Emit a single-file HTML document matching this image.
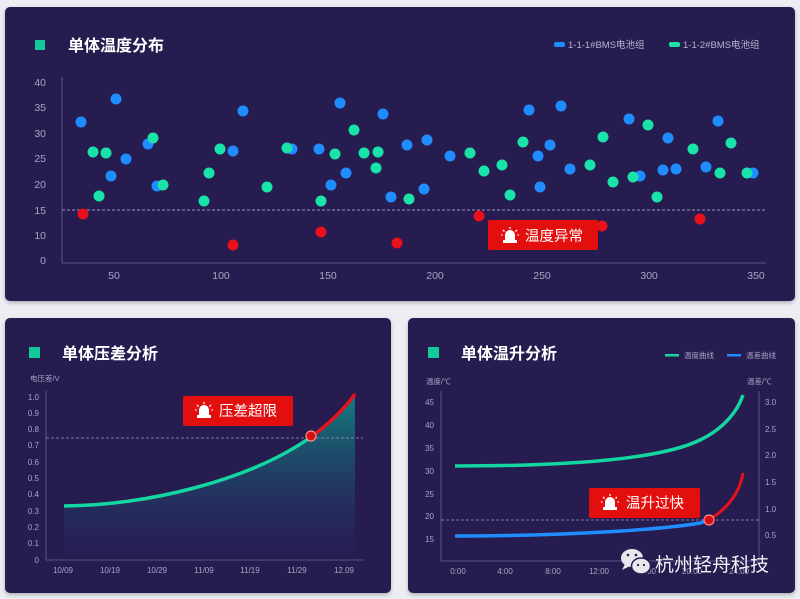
<!DOCTYPE html>
<html><head><meta charset="utf-8"><style>
html,body{margin:0;padding:0;background:#eceef3;}
body{width:800px;height:599px;overflow:hidden;position:relative;font-family:"Liberation Sans","Noto Sans CJK SC",sans-serif;}
svg{position:absolute;left:0;top:0}
</style></head><body>
<svg width="800" height="599" viewBox="0 0 800 599" font-family="Liberation Sans, Noto Sans CJK SC, sans-serif">
<defs>
<linearGradient id="ga" x1="0" y1="0" x2="0" y2="1">
<stop offset="0" stop-color="#0f8a85" stop-opacity="0.9"/>
<stop offset="1" stop-color="#2a2060" stop-opacity="0.3"/>
</linearGradient>
<filter id="sh" x="-10%" y="-10%" width="120%" height="130%"><feDropShadow dx="0" dy="2" stdDeviation="2" flood-color="#000" flood-opacity="0.25"/></filter>
<g id="siren"><rect x="-7" y="4" width="14" height="3" fill="#fff"/><path d="M-5,4 L-5,-1 A5,5 0 0 1 5,-1 L5,4 Z" fill="#fff"/><g stroke="#fff" stroke-width="1.3"><line x1="0" y1="-9" x2="0" y2="-7"/><line x1="-7" y1="-6" x2="-5.5" y2="-4.5"/><line x1="7" y1="-6" x2="5.5" y2="-4.5"/><line x1="-9" y1="-1" x2="-7.5" y2="-1"/><line x1="9" y1="-1" x2="7.5" y2="-1"/></g></g>
</defs>
<!-- panels -->
<rect x="5" y="7" width="790" height="294" rx="5" fill="#251d50" filter="url(#sh)"/>
<rect x="5" y="318" width="386" height="275" rx="5" fill="#251d50" filter="url(#sh)"/>
<rect x="408" y="318" width="387" height="275" rx="5" fill="#251d50" filter="url(#sh)"/>

<!-- TOP -->
<rect x="35" y="40" width="10" height="10" fill="#13c99a"/>
<text x="68" y="51" fill="#fff" font-size="16" font-weight="bold">单体温度分布</text>
<rect x="554" y="42" width="11" height="5" rx="2" fill="#1f8cff"/>
<text x="568" y="48" fill="#b8b4d0" font-size="9.5">1-1-1#BMS电池组</text>
<rect x="669" y="42" width="11" height="5" rx="2" fill="#19e3a8"/>
<text x="683" y="48" fill="#b8b4d0" font-size="9.5">1-1-2#BMS电池组</text>
<line x1="62" y1="77" x2="62" y2="263" stroke="#5a5288" stroke-width="1"/>
<line x1="62" y1="263" x2="766" y2="263" stroke="#5a5288" stroke-width="1"/>
<g fill="#a9a5c4" font-size="10.5" text-anchor="end">
<text x="46" y="86">40</text><text x="46" y="111">35</text><text x="46" y="137">30</text><text x="46" y="162">25</text><text x="46" y="188">20</text><text x="46" y="214">15</text><text x="46" y="239">10</text><text x="46" y="264">0</text>
</g>
<g fill="#a9a5c4" font-size="10.5" text-anchor="middle">
<text x="114" y="279">50</text><text x="221" y="279">100</text><text x="328" y="279">150</text><text x="435" y="279">200</text><text x="542" y="279">250</text><text x="649" y="279">300</text><text x="756" y="279">350</text>
</g>
<line x1="62" y1="210" x2="766" y2="210" stroke="#9a94c0" stroke-dasharray="3,2" stroke-width="1"/>
<g fill="#1f8cff">
<circle cx="81" cy="122" r="5.5"/><circle cx="116" cy="99" r="5.5"/><circle cx="111" cy="176" r="5.5"/><circle cx="126" cy="159" r="5.5"/><circle cx="148" cy="144" r="5.5"/><circle cx="157" cy="186" r="5.5"/><circle cx="233" cy="151" r="5.5"/><circle cx="243" cy="111" r="5.5"/><circle cx="292" cy="149" r="5.5"/><circle cx="319" cy="149" r="5.5"/><circle cx="331" cy="185" r="5.5"/><circle cx="340" cy="103" r="5.5"/><circle cx="346" cy="173" r="5.5"/><circle cx="383" cy="114" r="5.5"/><circle cx="391" cy="197" r="5.5"/><circle cx="407" cy="145" r="5.5"/><circle cx="424" cy="189" r="5.5"/><circle cx="427" cy="140" r="5.5"/><circle cx="450" cy="156" r="5.5"/><circle cx="529" cy="110" r="5.5"/><circle cx="538" cy="156" r="5.5"/><circle cx="540" cy="187" r="5.5"/><circle cx="550" cy="145" r="5.5"/><circle cx="561" cy="106" r="5.5"/><circle cx="570" cy="169" r="5.5"/><circle cx="629" cy="119" r="5.5"/><circle cx="640" cy="176" r="5.5"/><circle cx="663" cy="170" r="5.5"/><circle cx="668" cy="138" r="5.5"/><circle cx="676" cy="169" r="5.5"/><circle cx="706" cy="167" r="5.5"/><circle cx="718" cy="121" r="5.5"/><circle cx="753" cy="173" r="5.5"/>
</g>
<g fill="#19e3a8">
<circle cx="93" cy="152" r="5.5"/><circle cx="99" cy="196" r="5.5"/><circle cx="106" cy="153" r="5.5"/><circle cx="153" cy="138" r="5.5"/><circle cx="163" cy="185" r="5.5"/><circle cx="204" cy="201" r="5.5"/><circle cx="209" cy="173" r="5.5"/><circle cx="220" cy="149" r="5.5"/><circle cx="267" cy="187" r="5.5"/><circle cx="287" cy="148" r="5.5"/><circle cx="321" cy="201" r="5.5"/><circle cx="335" cy="154" r="5.5"/><circle cx="354" cy="130" r="5.5"/><circle cx="364" cy="153" r="5.5"/><circle cx="376" cy="168" r="5.5"/><circle cx="378" cy="152" r="5.5"/><circle cx="409" cy="199" r="5.5"/><circle cx="470" cy="153" r="5.5"/><circle cx="484" cy="171" r="5.5"/><circle cx="502" cy="165" r="5.5"/><circle cx="510" cy="195" r="5.5"/><circle cx="523" cy="142" r="5.5"/><circle cx="590" cy="165" r="5.5"/><circle cx="603" cy="137" r="5.5"/><circle cx="613" cy="182" r="5.5"/><circle cx="633" cy="177" r="5.5"/><circle cx="648" cy="125" r="5.5"/><circle cx="657" cy="197" r="5.5"/><circle cx="693" cy="149" r="5.5"/><circle cx="720" cy="173" r="5.5"/><circle cx="731" cy="143" r="5.5"/><circle cx="747" cy="173" r="5.5"/>
</g>
<g fill="#e8101a">
<circle cx="83" cy="214" r="5.5"/><circle cx="233" cy="245" r="5.5"/><circle cx="321" cy="232" r="5.5"/><circle cx="397" cy="243" r="5.5"/><circle cx="479" cy="216" r="5.5"/><circle cx="602" cy="226" r="5.5"/><circle cx="700" cy="219" r="5.5"/>
</g>
<rect x="488" y="220" width="110" height="30" rx="2" fill="#e30f0f"/>
<use href="#siren" x="510" y="236"/>
<text x="525" y="241" fill="#fff" font-size="14.5">温度异常</text>

<!-- BOTTOM LEFT -->
<rect x="29" y="347" width="11" height="11" fill="#13c99a"/>
<text x="62" y="359" fill="#fff" font-size="16" font-weight="bold">单体压差分析</text>
<text x="30" y="381" fill="#a9a5c4" font-size="7.5">电压差/V</text>
<line x1="46" y1="391" x2="46" y2="560" stroke="#5a5288"/>
<line x1="46" y1="560" x2="363" y2="560" stroke="#5a5288"/>
<g fill="#a9a5c4" font-size="8" text-anchor="end">
<text x="39" y="400">1.0</text><text x="39" y="416">0.9</text><text x="39" y="432">0.8</text><text x="39" y="448">0.7</text><text x="39" y="465">0.6</text><text x="39" y="481">0.5</text><text x="39" y="497">0.4</text><text x="39" y="514">0.3</text><text x="39" y="530">0.2</text><text x="39" y="546">0.1</text><text x="39" y="563">0</text>
</g>
<g fill="#a9a5c4" font-size="8" text-anchor="middle">
<text x="63" y="573">10/09</text><text x="110" y="573">10/19</text><text x="157" y="573">10/29</text><text x="204" y="573">11/09</text><text x="250" y="573">11/19</text><text x="297" y="573">11/29</text><text x="344" y="573">12.09</text>
</g>
<path d="M64,506 C150,505 250,480 311,437 C330,423 345,408 355,394 L355,555 L64,555 Z" fill="url(#ga)"/>
<line x1="46" y1="438" x2="363" y2="438" stroke="#9a94c0" stroke-dasharray="3,2" stroke-width="0.8"/>
<path d="M64,506 C150,505 250,480 311,437" fill="none" stroke="#13d6a0" stroke-width="3.5"/>
<path d="M311,437 C330,423 345,408 355,394" fill="none" stroke="#e8101a" stroke-width="3.5"/>
<circle cx="311" cy="436" r="5" fill="#d80f12" stroke="#ff8a8a" stroke-width="1.2"/>
<rect x="183" y="396" width="110" height="30" rx="2" fill="#e30f0f"/>
<use href="#siren" x="204" y="411"/>
<text x="219" y="416" fill="#fff" font-size="14.5">压差超限</text>

<!-- BOTTOM RIGHT -->
<rect x="428" y="347" width="11" height="11" fill="#13c99a"/>
<text x="461" y="359" fill="#fff" font-size="16" font-weight="bold">单体温升分析</text>
<rect x="665" y="354" width="14" height="2.5" fill="#19d6a0"/>
<text x="684" y="358" fill="#a9a5c4" font-size="7.5">温度曲线</text>
<rect x="727" y="354" width="14" height="2.5" fill="#1f8cff"/>
<text x="746" y="358" fill="#a9a5c4" font-size="7.5">温差曲线</text>
<text x="426" y="384" fill="#a9a5c4" font-size="7.5">温度/℃</text>
<text x="747" y="384" fill="#a9a5c4" font-size="7.5">温差/℃</text>
<line x1="441" y1="391" x2="441" y2="561" stroke="#5a5288"/>
<line x1="441" y1="561" x2="759" y2="561" stroke="#5a5288"/>
<line x1="759" y1="391" x2="759" y2="561" stroke="#5a5288"/>
<g fill="#a9a5c4" font-size="8" text-anchor="end">
<text x="434" y="405">45</text><text x="434" y="428">40</text><text x="434" y="451">35</text><text x="434" y="474">30</text><text x="434" y="497">25</text><text x="434" y="519">20</text><text x="434" y="542">15</text>
</g>
<g fill="#a9a5c4" font-size="8">
<text x="765" y="405">3.0</text><text x="765" y="432">2.5</text><text x="765" y="458">2.0</text><text x="765" y="485">1.5</text><text x="765" y="512">1.0</text><text x="765" y="538">0.5</text>
</g>
<g fill="#a9a5c4" font-size="8" text-anchor="middle">
<text x="458" y="574">0:00</text><text x="505" y="574">4:00</text><text x="553" y="574">8:00</text><text x="599" y="574">12:00</text><text x="646" y="574">16:00</text><text x="692" y="574">20:00</text><text x="739" y="574">24:00</text>
</g>
<line x1="441" y1="520" x2="759" y2="520" stroke="#9a94c0" stroke-dasharray="3,2" stroke-width="0.8"/>
<path d="M455,466 C560,466 660,460 700,440 C725,428 738,410 743,395" fill="none" stroke="#13d6a0" stroke-width="3.5"/>
<path d="M455,536 C560,536 660,530 700,523 L709,520" fill="none" stroke="#1f8cff" stroke-width="3.5"/>
<path d="M709,520 C728,508 740,492 743,473" fill="none" stroke="#e8101a" stroke-width="3"/>
<circle cx="709" cy="520" r="5" fill="#d80f12" stroke="#ff8a8a" stroke-width="1.2"/>
<rect x="589" y="488" width="111" height="30" rx="2" fill="#e30f0f"/>
<use href="#siren" x="610" y="503"/>
<text x="626" y="508" fill="#fff" font-size="14.5">温升过快</text>

<!-- watermark -->
<g fill="#f2f2f5" opacity="0.95">
<ellipse cx="632" cy="558" rx="11" ry="9"/><path d="M625,564 L622,570 L630,566 Z"/>
<ellipse cx="641" cy="566" rx="9.5" ry="8" stroke="#251d50" stroke-width="1.5"/>
</g>
<g fill="#251d50"><circle cx="628" cy="555" r="1.3"/><circle cx="636" cy="555" r="1.3"/><circle cx="638" cy="565" r="1.1"/><circle cx="644" cy="565" r="1.1"/></g>
<text x="655" y="571" fill="#f2f2f5" font-size="19">杭州轻舟科技</text>
</svg>
</body></html>
